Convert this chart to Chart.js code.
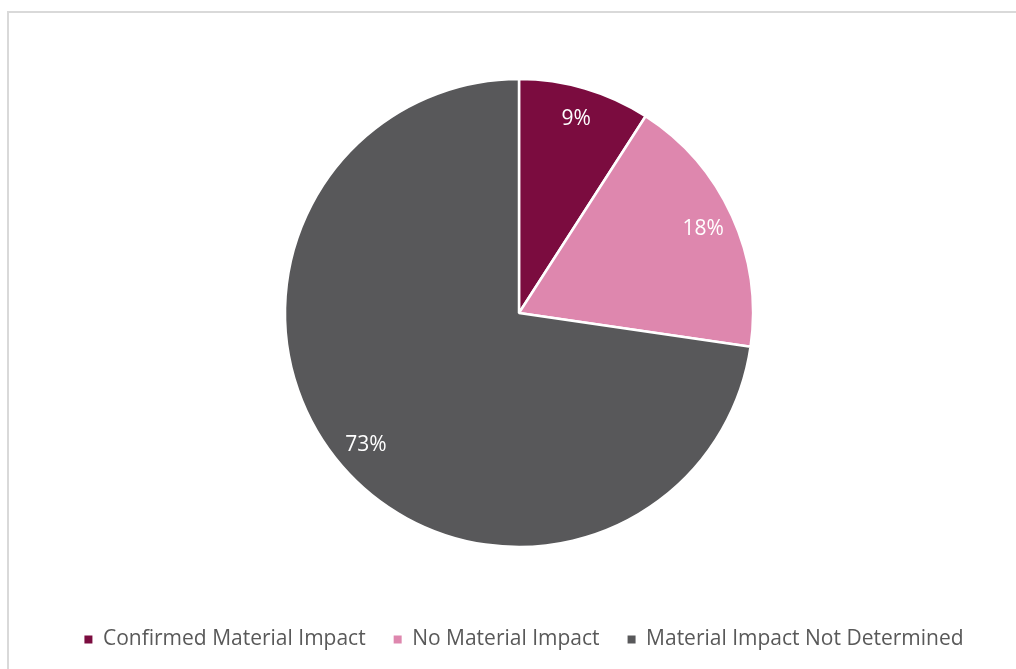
<!DOCTYPE html>
<html>
<head>
<meta charset="utf-8">
<script src="https://cdn.jsdelivr.net/npm/chart.js@4.4.1/dist/chart.umd.min.js"></script>
<style>
  html, body { margin: 0; padding: 0; background: #ffffff; overflow: hidden; width: 1016px; height: 669px; }
  #frame { position: absolute; left: 7px; top: 11px; width: 1100px; height: 800px; border-left: 2px solid #d9d9d9; border-top: 2px solid #d9d9d9; box-sizing: border-box; }
  #wrap { position: absolute; left: 8px; top: 12px; width: 1022px; height: 657px; }
</style>
</head>
<body>
<div id="frame"></div>
<div id="wrap"><canvas id="c" width="1022" height="657"></canvas></div>
<script>
const categories = ["Confirmed Material Impact", "No Material Impact", "Material Impact Not Determined"];
const values = [9.1, 18.2, 72.7];
const colors = ["#7b0c3f", "#de87ae", "#58585a"];

const labelPlugin = {
  id: 'sliceLabels',
  afterLayout(chart) {
    chart.legend.left += 5;
    chart.legend.right += 5;
  },
  afterDatasetsDraw(chart) {
    const ctx = chart.ctx;
    const meta = chart.getDatasetMeta(0);
    const total = values.reduce((a, b) => a + b, 0);
    ctx.save();
    ctx.fillStyle = '#ffffff';
    ctx.font = '21px "Open Sans"';
    ctx.textAlign = 'center';
    ctx.textBaseline = 'middle';
    meta.data.forEach((arc, i) => {
      const p = arc.getProps(['x', 'y', 'startAngle', 'endAngle', 'outerRadius'], true);
      const mid = (p.startAngle + p.endAngle) / 2;
      const r = p.outerRadius * 0.865;
      const txt = Math.round(values[i] / total * 100) + '%';
      ctx.fillText(txt, p.x + Math.cos(mid) * r, p.y + Math.sin(mid) * r);
    });
    ctx.restore();
  }
};

const baseGen = Chart.overrides.pie.plugins.legend.labels.generateLabels;

new Chart(document.getElementById('c'), {
  type: 'pie',
  data: {
    labels: categories,
    datasets: [{
      data: values,
      backgroundColor: colors,
      borderColor: '#ffffff',
      borderWidth: 2.5,
      radius: 234
    }]
  },
  options: {
    responsive: false,
    animation: false,
    layout: { padding: { top: 13, bottom: 9 } },
    plugins: {
      tooltip: { enabled: false },
      legend: {
        position: 'bottom',
        labels: {
          usePointStyle: true,
          pointStyle: 'rect',
          boxWidth: 8,
          boxHeight: 8,
          padding: 28,
          color: '#595959',
          font: { family: '"Open Sans"', size: 21 },
          generateLabels(chart) {
            return baseGen(chart).map(l => Object.assign(l, { lineWidth: 0, strokeStyle: l.fillStyle }));
          }
        }
      }
    }
  },
  plugins: [labelPlugin]
});
</script>
</body>
</html>
